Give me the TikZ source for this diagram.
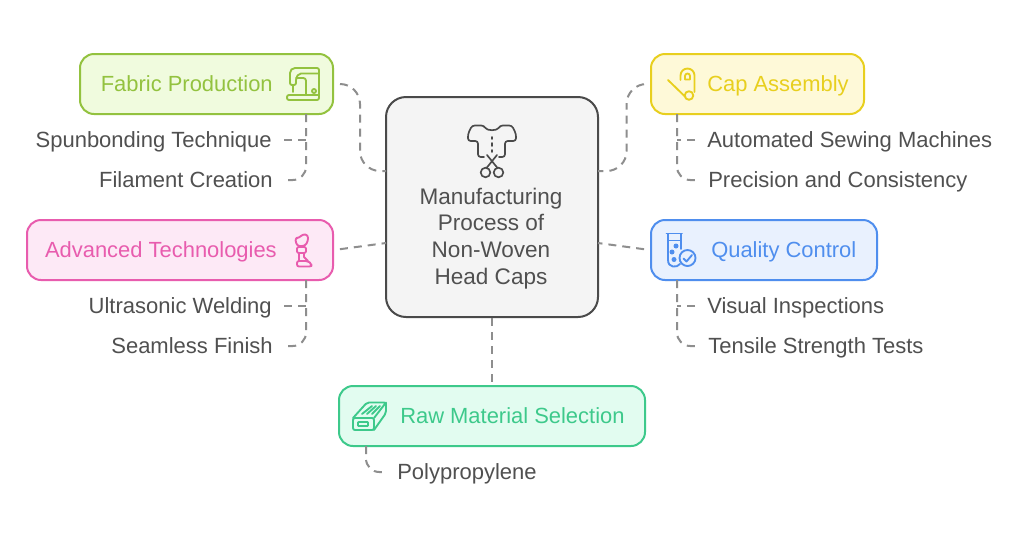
\documentclass[tikz,border=0pt]{standalone}
\usepackage{fontspec}
\setmainfont{Liberation Sans}
\usetikzlibrary{calc}
\definecolor{fabS}{HTML}{93C23F}\definecolor{fabF}{HTML}{F0FBDE}
\definecolor{capS}{HTML}{E8CF1E}\definecolor{capF}{HTML}{FEF9D8}
\definecolor{advS}{HTML}{E85CAE}\definecolor{advF}{HTML}{FDE9F6}
\definecolor{quaS}{HTML}{4F8EEE}\definecolor{quaF}{HTML}{E9F1FE}
\definecolor{rawS}{HTML}{3DC98B}\definecolor{rawF}{HTML}{E2FCF0}
\definecolor{cenS}{HTML}{4A4A4A}\definecolor{cenF}{HTML}{F4F4F4}
\definecolor{txt}{HTML}{505050}\definecolor{con}{HTML}{8E8E8E}
\tikzset{
 boxn/.style={draw=#1S,fill=#1F,line width=1.5pt,rounded corners=10.5pt,inner sep=0pt,minimum height=45pt},
 lab/.style={text=#1S,font=\fontsize{16.45}{20}\selectfont,inner sep=0pt,text height=14.5pt,text depth=4pt},
 item/.style={text=txt,font=\fontsize{16.5}{20}\selectfont,inner ysep=0pt,inner xsep=9pt,text height=14.5pt,text depth=4pt},
 conn/.style={draw=con,line width=1.5pt,dash pattern=on 6pt off 4.5pt,dash phase=6pt},
 trunk/.style={draw=con,line width=1.5pt,dash pattern=on 6pt off 4.5pt},
 ic/.style={draw=#1S,line width=1.4pt,line cap=round,line join=round},
 icg/.style={draw=cenS,line width=1.25pt,line cap=round,line join=round}
}
\begin{document}
\begin{tikzpicture}[x=0.75pt,y=-0.75pt]
\useasboundingbox[fill=white] (0,0) rectangle (1024,540);
% boxes
\node[boxn=cen,minimum width=159pt,minimum height=165pt,rounded corners=15pt] (center) at (492,207) {};
\node[boxn=fab,minimum width=189.75pt] (fabric) at (206.5,84) {};
\node[boxn=cap,minimum width=159.75pt] (cap) at (757.5,84) {};
\node[boxn=adv,minimum width=229.5pt] (adv) at (180,250) {};
\node[boxn=qua,minimum width=169.5pt] (qual) at (764,250) {};
\node[boxn=raw,minimum width=229.5pt] (raw) at (492,416) {};
% labels
\node[lab=fab,anchor=east] (fabL) at (273,84) {Fabric Production};
\node[lab=cap,anchor=west] (capL) at (707,84) {Cap Assembly};
\node[lab=adv,anchor=east] (advL) at (277,250) {Advanced Technologies};
\node[lab=qua,anchor=west] (quaL) at (711,250) {Quality Control};
\node[lab=raw,anchor=west] (rawL) at (400,416) {Raw Material Selection};
\node[text=txt,font=\fontsize{16.9}{20}\selectfont,align=center,inner sep=0pt] (cenL) at (491,238.5) {Manufacturing\\Process of\\Non-Woven\\Head Caps};
% items
\node[item,anchor=east] (spun) at (284,140) {Spunbonding Technique};
\node[item,anchor=east] (fil) at (285,180) {Filament Creation};
\node[item,anchor=east] (ultra) at (284,306) {Ultrasonic Welding};
\node[item,anchor=east] (seam) at (285,346) {Seamless Finish};
\node[item,anchor=west] (auto) at (695,140) {Automated Sewing Machines};
\node[item,anchor=west] (prec) at (696,180) {Precision and Consistency};
\node[item,anchor=west] (vis) at (695,306) {Visual Inspections};
\node[item,anchor=west] (tens) at (696,346) {Tensile Strength Tests};
\node[item,anchor=west] (poly) at (385,472) {Polypropylene};
% anchors
\coordinate (cfl) at (386,171);
\coordinate (cfr) at (598,171);
\coordinate (cal) at (386,243);
\coordinate (cqr) at (598,243);
\coordinate (fabT) at (306,114);
\coordinate (advT) at (306,280);
\coordinate (capT) at (677,114);
\coordinate (quaT) at (677,280);
\coordinate (rawT) at (366,446);
% main connectors
\draw[conn,rounded corners=15pt] (fabric.east) -| ($(fabric.east)!.5!(cfl)$) |- (cfl);
\draw[conn,rounded corners=15pt] (cap.west) -| ($(cap.west)!.45!(cfr)$) |- (cfr);
\draw[conn] (adv.east) -- (cal);
\draw[conn] (qual.west) -- (cqr);
\draw[trunk] (center.south) -- (raw.north);
% child connectors
\draw[trunk,rounded corners=10pt] (fabT) |- (fil.east);
\draw[trunk] (spun.east) -- (fabT |- spun.east);
\draw[trunk,rounded corners=10pt] (advT) |- (seam.east);
\draw[trunk] (ultra.east) -- (advT |- ultra.east);
\draw[trunk,rounded corners=10pt] (capT) |- (prec.west);
\draw[trunk] (auto.west) -- (capT |- auto.west);
\draw[trunk,rounded corners=10pt] (quaT) |- (tens.west);
\draw[trunk] (vis.west) -- (quaT |- vis.west);
\draw[trunk,rounded corners=10pt] (rawT) |- (poly.west);
% icon: shirt and scissors
\draw[icg,rounded corners=2pt] (484,157) -- (478,157) -- (478,141) -- (468,141) -- (468,134) -- (472,125.5) -- (484,125.5) .. controls (487,131) and (497,131) .. (500,125.5) -- (512,125.5) -- (516,134) -- (516,141) -- (505,141) -- (505,157) -- (499,157);
\draw[icg] (492,137) -- (492,139) (492,143) -- (492,146) (492,150) -- (492,152);
\draw[icg] (487,155) -- (497.5,168) (497,155) -- (486.5,168);
\draw[icg] (485.5,172.5) circle[radius=4.8] (498.5,172.5) circle[radius=4.8];
% icon: sewing machine
\draw[ic=fab,rounded corners=1.5pt] (292,85) -- (290,85) -- (290,71) -- (293,68) -- (319,68) -- (319,100) -- (287,100) -- (287,95) -- (319,95);
\draw[ic=fab,rounded corners=1.5pt] (292,85) -- (296,85) -- (296,78) -- (299,73.5) -- (319,73.5);
\draw[ic=fab,rounded corners=2pt] (296,78) -- (306,78) -- (306,95);
\draw[ic=fab] (293,85) -- (293,92);
\draw[ic=fab] (314,91) circle[radius=2];
% icon: safety pin
\draw[ic=cap] (668,80) -- (685.5,97);
\draw[ic=cap] (689,95.5) circle[radius=4.3];
\draw[ic=cap] (694.5,92) -- (694.5,75.5) arc[start angle=0,end angle=-180,radius=7] -- (680.5,80);
\draw[ic=cap] (685,79.5) -- (690,79.5) -- (690,76) arc[start angle=0,end angle=-180,radius=2.5] -- (685,79.5);
% icon: test tube
\draw[ic=qua] (666.5,233.5) -- (682,233.5);
\draw[ic=qua] (668,234) -- (668,260) .. controls (668,268) and (677,268) .. (680,264);
\draw[ic=qua] (681,234) -- (681,249);
\draw[ic=qua] (668,240.5) -- (681,240.5);
\fill[quaS] (676,246) circle[radius=2.5] (672,252) circle[radius=2.5] (674,259.5) circle[radius=2.5];
\draw[ic=qua] (687.5,258) circle[radius=8];
\draw[ic=qua] (683.5,258.5) -- (686.5,261.5) -- (692,255);
% icon: prosthetic leg
\draw[ic=adv,rounded corners=2pt] (297,246) -- (295,238) -- (299,238) -- (303,234) -- (308,235) -- (308,241) -- (305,246) -- cycle;
\draw[ic=adv,rounded corners=1pt] (297,247) rectangle (306,253);
\draw[ic=adv] (299,253) -- (299,261) (304,253) -- (304,257) -- (308,261);
\draw[ic=adv,rounded corners=1.5pt] (297,261) -- (308,261) -- (311.5,264) -- (311.5,266.5) -- (297,266.5) -- cycle;
% icon: brick
\draw[ic=raw,rounded corners=1.5pt] (353,418) rectangle (374,430);
\draw[ic=raw,rounded corners=1.5pt] (353,418) -- (367,402.5) -- (386,402.5) -- (374,418);
\draw[ic=raw,rounded corners=1.5pt] (386,402.5) -- (386,413) -- (374,430);
\draw[ic=raw,rounded corners=0.5pt] (358,422) rectangle (368,426);
\draw[ic=raw] (362,414) -- (372,406) (367,414) -- (376,406) (372,414) -- (380,406);
\end{tikzpicture}
\end{document}
